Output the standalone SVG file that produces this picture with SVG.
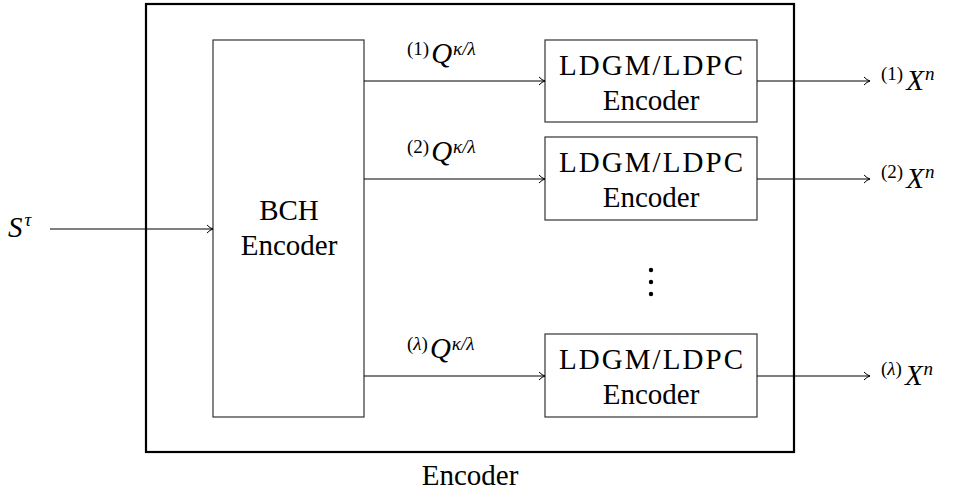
<svg xmlns="http://www.w3.org/2000/svg" width="955" height="491" viewBox="0 0 955 491">
<style>
.box{fill:#fff;stroke:#333;stroke-width:1.2}
.outer{fill:none;stroke:#000;stroke-width:2.2}
text{font-family:'Liberation Serif','Times New Roman',Times,'DejaVu Serif','Noto Serif',serif;fill:#000}
.lbl{font-size:29px;text-anchor:middle}
.it{font-style:italic}
.big{font-size:29px;font-style:italic}
.sup{font-size:19px}
.conn{fill:none;stroke:#000;stroke-width:1.1}
</style>
<defs>
<marker id="to" viewBox="0 0 10 10" refX="9" refY="5" markerWidth="10" markerHeight="10" markerUnits="userSpaceOnUse" orient="auto">
<path d="M3,1 Q6,4.2 9,5 Q6,5.8 3,9" fill="none" stroke="#000" stroke-width="1"/>
</marker>
</defs>
<g id="outer-encoder">
<rect class="outer" x="146" y="4" width="648" height="448"/>
<text class="lbl" x="470" y="485">Encoder</text>
</g>
<g id="bch">
<rect class="box" x="213" y="40" width="151" height="377"/>
<text class="lbl" x="289" y="220">BCH</text>
<text class="lbl" x="289" y="255">Encoder</text>
</g>
<g id="ldgm1">
<rect class="box" x="545" y="40" width="212" height="82"/>
<text class="lbl" x="651" y="75" textLength="184" lengthAdjust="spacing">LDGM/LDPC</text>
<text class="lbl" x="651" y="110">Encoder</text>
</g>
<g id="ldgm2">
<rect class="box" x="545" y="137" width="212" height="83"/>
<text class="lbl" x="651" y="172" textLength="184" lengthAdjust="spacing">LDGM/LDPC</text>
<text class="lbl" x="651" y="207">Encoder</text>
</g>
<g id="ldgm3">
<rect class="box" x="545" y="334" width="212" height="83"/>
<text class="lbl" x="651" y="369" textLength="184" lengthAdjust="spacing">LDGM/LDPC</text>
<text class="lbl" x="651" y="404">Encoder</text>
</g>
<g id="vdots">
<circle cx="651" cy="270" r="2.2"/>
<circle cx="651" cy="282" r="2.2"/>
<circle cx="651" cy="294" r="2.2"/>
</g>
<g id="input">
<text x="8" y="237"><tspan class="big">S</tspan><tspan class="sup it" dx="2" dy="-11">τ</tspan></text>
</g>
<g id="q-labels">
<text x="407" y="55" class="sup">(1)<tspan class="big" dx="2" dy="8">Q</tspan><tspan class="sup it" dx="1" dy="-8">κ/λ</tspan></text>
<text x="407" y="153" class="sup">(2)<tspan class="big" dx="2" dy="8">Q</tspan><tspan class="sup it" dx="1" dy="-8">κ/λ</tspan></text>
<text x="407" y="350" class="sup">(<tspan class="it">λ</tspan>)<tspan class="big" dx="2" dy="8">Q</tspan><tspan class="sup it" dx="1" dy="-8">κ/λ</tspan></text>
</g>
<g id="x-labels">
<text x="881" y="80" class="sup">(1)<tspan class="big" dx="3" dy="10">X</tspan><tspan class="sup it" dx="1" dy="-10">n</tspan></text>
<text x="881" y="178" class="sup">(2)<tspan class="big" dx="3" dy="10">X</tspan><tspan class="sup it" dx="1" dy="-10">n</tspan></text>
<text x="881" y="375" class="sup">(<tspan class="it">λ</tspan>)<tspan class="big" dx="3" dy="10">X</tspan><tspan class="sup it" dx="1" dy="-10">n</tspan></text>
</g>
<g id="connectors">
<line class="conn" x1="50" y1="229" x2="213" y2="229" marker-end="url(#to)"/>
<line class="conn" x1="364" y1="81" x2="545" y2="81" marker-end="url(#to)"/>
<line class="conn" x1="364" y1="179" x2="545" y2="179" marker-end="url(#to)"/>
<line class="conn" x1="364" y1="376" x2="545" y2="376" marker-end="url(#to)"/>
<line class="conn" x1="757" y1="81" x2="870" y2="81" marker-end="url(#to)"/>
<line class="conn" x1="757" y1="179" x2="870" y2="179" marker-end="url(#to)"/>
<line class="conn" x1="757" y1="376" x2="870" y2="376" marker-end="url(#to)"/>
</g>
</svg>
